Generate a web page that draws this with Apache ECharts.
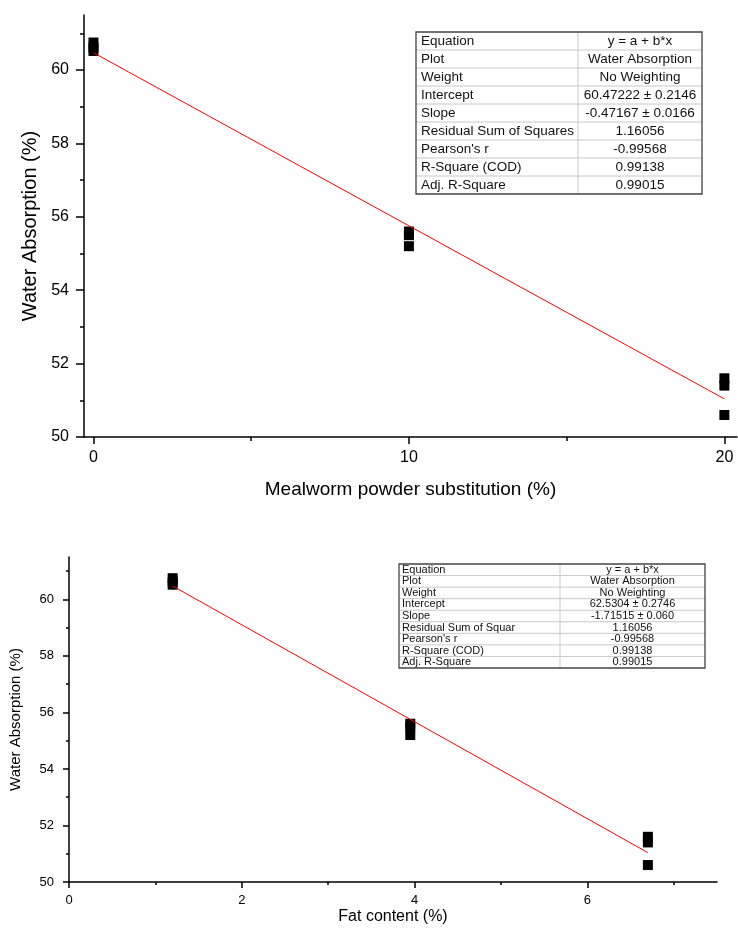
<!DOCTYPE html>
<html>
<head>
<meta charset="utf-8">
<script src="https://cdn.jsdelivr.net/npm/echarts@6/dist/echarts.min.js"></script>
<style>
html,body{margin:0;padding:0;background:#fff;}
#chart{width:738px;height:930px;}
</style>
</head>
<body>
<div id="chart"></div>
<script>
// ---- data ----
const substitution = [0, 0, 0, 10, 10, 10, 20, 20, 20];
const fatContent = [1.2, 1.2, 1.2, 3.95, 3.95, 3.95, 6.7, 6.7, 6.7];
const waterAbsorption = [60.75, 60.62, 60.52, 55.6, 55.5, 55.2, 51.6, 51.4, 50.6];

const fitSub = { intercept: 60.47222, slope: -0.47167, from: 0, to: 20 };
const fitFat = { intercept: 62.5304, slope: -1.71515, from: 1.2, to: 6.7 };

const subTicks = [0, 10, 20];
const subMinor = [5, 15];
const fatTicks = [0, 2, 4, 6];
const fatMinor = [1, 3, 5, 7];
const waTicks = [50, 52, 54, 56, 58, 60];
const waMinor = [51, 53, 55, 57, 59, 61];

const tableLabels = ["Equation", "Plot", "Weight", "Intercept", "Slope", "Residual Sum of Squares", "Pearson's r", "R-Square (COD)", "Adj. R-Square"];
const tableValuesTop = ["y = a + b*x", "Water Absorption", "No Weighting", "60.47222 \u00b1 0.2146", "-0.47167 \u00b1 0.0166", "1.16056", "-0.99568", "0.99138", "0.99015"];
const tableLabelsBottom = ["Equation", "Plot", "Weight", "Intercept", "Slope", "Residual Sum of Squar", "Pearson's r", "R-Square (COD)", "Adj. R-Square"];
const tableValuesBottom = ["y = a + b*x", "Water Absorption", "No Weighting", "62.5304 \u00b1 0.2746", "-1.71515 \u00b1 0.060", "1.16056", "-0.99568", "0.99138", "0.99015"];

// ---- build ----
const FONT = '"Liberation Sans", Arial, sans-serif';
const pts = (xs, ys) => xs.map((x, i) => [x, ys[i]]);
const fitLine = f => [[f.from, f.intercept + f.slope * f.from], [f.to, f.intercept + f.slope * f.to]];

function table(labels, values, c) {
  const els = [];
  const n = labels.length;
  const rh = c.h / n;
  for (let i = 1; i < n; i++) {
    els.push({ type: 'line', shape: { x1: c.x, y1: c.y + i * rh, x2: c.x + c.w, y2: c.y + i * rh }, style: { stroke: '#c8c8c8', lineWidth: 1 } });
  }
  els.push({ type: 'line', shape: { x1: c.div, y1: c.y, x2: c.div, y2: c.y + c.h }, style: { stroke: '#c8c8c8', lineWidth: 1 } });
  els.push({ type: 'rect', shape: { x: c.x, y: c.y, width: c.w, height: c.h }, style: { fill: 'none', stroke: '#444', lineWidth: 1.3 } });
  for (let i = 0; i < n; i++) {
    els.push({ type: 'text', style: { text: labels[i], x: c.x + c.pad, y: c.y + (i + 0.5) * rh, font: c.fs + 'px ' + FONT, fill: '#111', textAlign: 'left', textVerticalAlign: 'middle' } });
    els.push({ type: 'text', style: { text: values[i], x: (c.div + c.x + c.w) / 2, y: c.y + (i + 0.5) * rh, font: c.fs + 'px ' + FONT, fill: '#111', textAlign: 'center', textVerticalAlign: 'middle' } });
  }
  return els;
}

function mainX(grid, min, max, ticks, name, fs, nfs, gap, tl) {
  return {
    gridIndex: grid, type: 'value', min: min, max: max, position: 'bottom',
    axisLine: { onZero: false, lineStyle: { color: '#000', width: 1.5 } },
    axisTick: { customValues: ticks, length: tl, lineStyle: { color: '#000', width: 1.5 } },
    axisLabel: { customValues: ticks, fontSize: fs, color: '#000', fontFamily: FONT, margin: tl + 6 },
    splitLine: { show: false },
    name: name, nameLocation: 'middle', nameGap: gap,
    nameTextStyle: { fontSize: nfs, color: '#000', fontFamily: FONT, verticalAlign: 'top' }
  };
}
function minorX(grid, min, max, ticks, tl) {
  return {
    gridIndex: grid, type: 'value', min: min, max: max, position: 'bottom',
    axisLine: { show: false, onZero: false },
    axisTick: { customValues: ticks, length: tl, lineStyle: { color: '#000', width: 1.5 } },
    axisLabel: { show: false }, splitLine: { show: false }
  };
}
function mainY(grid, name, fs, nfs, gap, tl, lm) {
  return {
    gridIndex: grid, type: 'value', min: 50, max: 61.5, position: 'left',
    axisLine: { show: true, onZero: false, lineStyle: { color: '#000', width: 1.5 } },
    axisTick: { show: true, customValues: waTicks, length: tl, lineStyle: { color: '#000', width: 1.5 } },
    axisLabel: { customValues: waTicks, fontSize: fs, color: '#000', fontFamily: FONT, margin: lm },
    splitLine: { show: false },
    name: name, nameLocation: 'middle', nameGap: gap, nameRotate: 90,
    nameTextStyle: { fontSize: nfs, color: '#000', fontFamily: FONT }
  };
}
function minorY(grid, tl) {
  return {
    gridIndex: grid, type: 'value', min: 50, max: 61.5, position: 'left',
    axisLine: { show: false, onZero: false },
    axisTick: { show: true, customValues: waMinor, length: tl, lineStyle: { color: '#000', width: 1.5 } },
    axisLabel: { show: false }, splitLine: { show: false }
  };
}

const option = {
  animation: false,
  backgroundColor: '#fff',
  textStyle: { fontFamily: FONT },
  grid: [
    { left: 84, top: 15, right: 1, bottom: 493 },
    { left: 68, top: 557, right: 21, bottom: 48 }
  ],
  xAxis: [
    mainX(0, -0.3, 20.4, subTicks, 'Mealworm powder substitution (%)', 16, 19, 43, 7),
    minorX(0, -0.3, 20.4, subMinor, 4),
    mainX(1, 0, 7.5, fatTicks, 'Fat content (%)', 13, 16, 27, 6),
    minorX(1, 0, 7.5, fatMinor, 3)
  ],
  yAxis: [
    mainY(0, 'Water Absorption (%)', 16, 20, 44, 8, 15),
    minorY(0, 4),
    mainY(1, 'Water Absorption (%)', 13, 15, 46, 6, 15),
    minorY(1, 3)
  ],
  series: [
    { type: 'line', xAxisIndex: 0, yAxisIndex: 0, data: fitLine(fitSub), showSymbol: false, lineStyle: { color: '#ff0000', width: 1 }, z: 3 },
    { type: 'scatter', xAxisIndex: 0, yAxisIndex: 0, data: pts(substitution, waterAbsorption), symbol: 'rect', symbolSize: 10, itemStyle: { color: '#000', opacity: 1 }, z: 2 },
    { type: 'line', xAxisIndex: 2, yAxisIndex: 2, data: fitLine(fitFat), showSymbol: false, lineStyle: { color: '#ff0000', width: 1 }, z: 3 },
    { type: 'scatter', xAxisIndex: 2, yAxisIndex: 2, data: pts(fatContent, waterAbsorption), symbol: 'rect', symbolSize: 10, itemStyle: { color: '#000', opacity: 1 }, z: 2 }
  ],
  graphic: [
    { type: 'group', children: table(tableLabels, tableValuesTop, { x: 416, y: 32, w: 286, h: 162, div: 578, fs: 13.5, pad: 5 }) },
    { type: 'group', children: table(tableLabelsBottom, tableValuesBottom, { x: 399, y: 564, w: 306, h: 104, div: 560, fs: 11, pad: 3 }) }
  ]
};

const chart = echarts.init(document.getElementById('chart'), null, { renderer: 'canvas' });
chart.setOption(option);
</script>
</body>
</html>
